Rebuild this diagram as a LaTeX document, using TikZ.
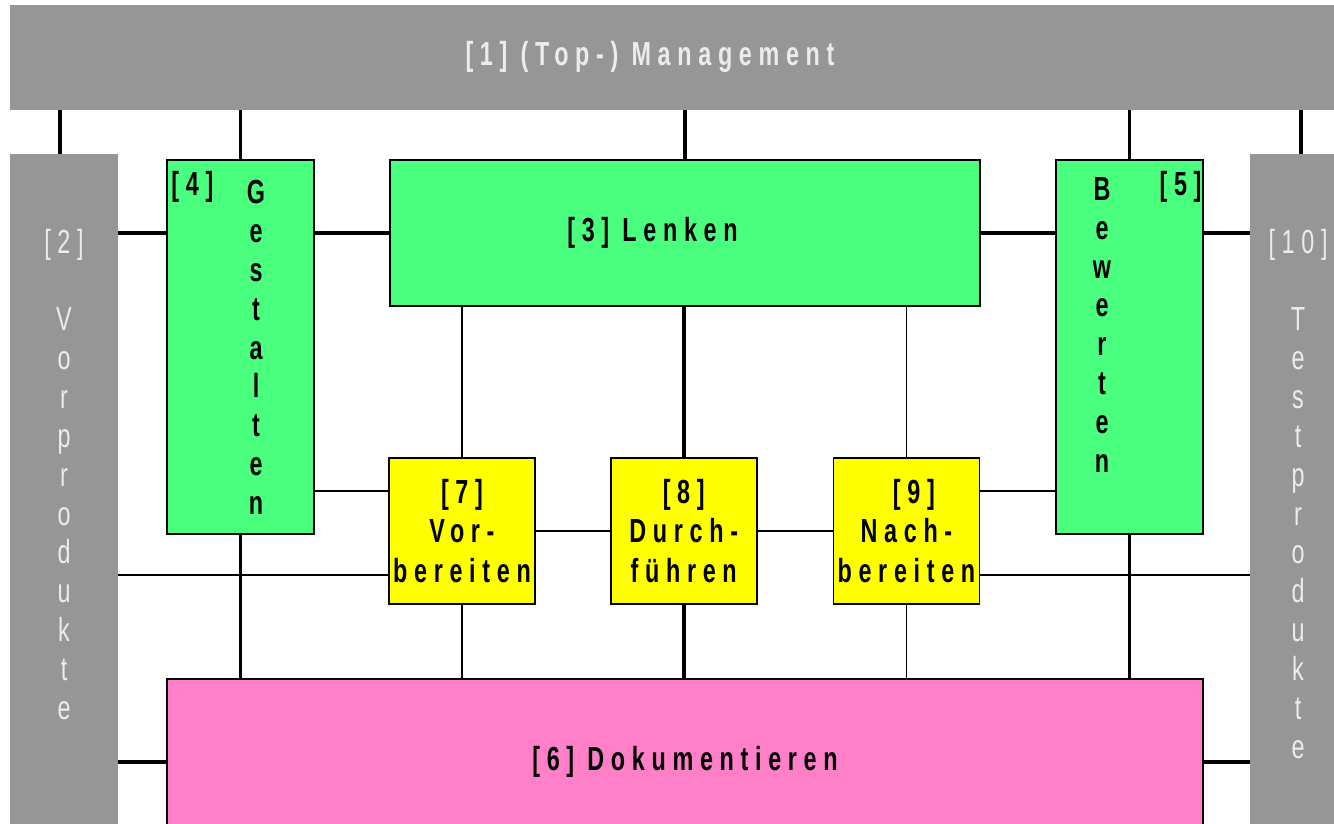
\documentclass[tikz,border=0pt]{standalone}
\usepackage{fontspec}
\newfontfamily\diagfont{Liberation Sans}[FakeStretch=0.7, LetterSpace=20]
\usetikzlibrary{positioning}
\definecolor{bargray}{RGB}{150,150,150}
\definecolor{bartext}{RGB}{236,236,236}
\definecolor{lenkgreen}{RGB}{74,255,126}
\definecolor{phaseyellow}{RGB}{255,255,0}
\definecolor{dokupink}{RGB}{255,128,200}
\tikzset{%
   bar/.style={fill=bargray, draw=none, inner sep=0pt},
   barlbl/.style={text=bartext, inner sep=0pt, align=center, font=\diagfont\fontsize{19}{22.1}\selectfont},
   lenkbox/.style={fill=lenkgreen, draw=black, line width=1pt, inner sep=0pt},
   phasebox/.style={fill=phaseyellow, draw=black, line width=1pt, inner sep=0pt, align=center,
      minimum width=2.92cm, minimum height=2.92cm, font=\diagfont\bfseries\fontsize{19}{22.7}\selectfont},
   dokubox/.style={fill=dokupink, draw=black, line width=1pt, inner sep=0pt},
   boxlbl/.style={inner sep=0pt, align=center, font=\diagfont\bfseries\fontsize{19}{22.1}\selectfont},
   link/.style={line width=2.2pt},
   sublink/.style={line width=1pt},
}

\begin{document}
\begin{tikzpicture}[x=0.02cm, y=-0.02cm]
   \useasboundingbox (0,0) rectangle (1334,823);
   \clip (0,0) rectangle (1334,823);
   % grey frame
   \node[bar, minimum width=26.6cm, minimum height=2.1cm] (mgmt) at (675,57.5) {};
   \node[barlbl, font=\diagfont\bfseries\fontsize{19}{22.1}\selectfont] (mgmtlbl) at (650,57) {[1] (Top-) Management};
   \node[bar, minimum width=2.16cm, minimum height=13.6cm] (vor) at (64,494) {};
   \node[bar, minimum width=1.92cm, minimum height=13.6cm] (test) at (1298,494) {};
   \node[barlbl, below=1.5cm of vor.north] (vorlbl) {[2]\\ \\V\\o\\r\\p\\r\\o\\d\\u\\k\\t\\e};
   \node[barlbl, below=1.5cm of test.north] (testlbl) {[10]\\ \\T\\e\\s\\t\\p\\r\\o\\d\\u\\k\\t\\e};
   % green boxes
   \node[lenkbox, minimum width=2.94cm, minimum height=7.48cm] (gest) at (240.5,347) {};
   \node[lenkbox, minimum width=11.8cm, minimum height=2.92cm, boxlbl] (lenk) at (685,233) {[3] Lenken\hspace{1.3cm}};
   \node[lenkbox, minimum width=2.94cm, minimum height=7.48cm] (bew) at (1129.5,347) {};
   \node[boxlbl, below=0.42cm of gest.north, xshift=0.31cm] (gestlbl) {G\\e\\s\\t\\a\\l\\t\\e\\n};
   \node[boxlbl, anchor=north west] (gestnum) at ([xshift=0.1cm, yshift=-0.24cm]gest.north west) {[4]};
   \node[boxlbl, below=0.36cm of bew.north, xshift=-0.55cm] (bewlbl) {B\\e\\w\\e\\r\\t\\e\\n};
   \node[boxlbl, anchor=north east] (bewnum) at ([xshift=-0.04cm, yshift=-0.24cm]bew.north east) {[5]};
   % phases
   \node[phasebox] (vorb) at (462,531) {[7]\\Vor-\\bereiten};
   \node[phasebox, right=1.48cm of vorb] (durch) {[8]\\Durch-\\führen};
   \node[phasebox, right=1.5cm of durch] (nach) {\hspace{0.3cm}[9]\\Nach-\\bereiten};
   % documentation
   \node[dokubox, minimum width=20.72cm, minimum height=3.32cm, boxlbl] (doku) at (685,762) {[6] Dokumentieren};
   % thick links
   \draw[link] ([xshift=-0.08cm]vor.north) -- ([xshift=-0.08cm]vor.north |- mgmt.south);
   \draw[link] (gest.north) -- (gest.north |- mgmt.south);
   \draw[link] (lenk.north) -- (lenk.north |- mgmt.south);
   \draw[link] (bew.north) -- (bew.north |- mgmt.south);
   \draw[link] ([xshift=0.06cm]test.north) -- ([xshift=0.06cm]test.north |- mgmt.south);
   \draw[link] (vor.east |- lenk) -- (gest.west |- lenk);
   \draw[link] (gest.east |- lenk) -- (lenk.west);
   \draw[link] (lenk.east) -- (bew.west |- lenk);
   \draw[link] (bew.east |- lenk) -- (test.west |- lenk);
   \draw[link] (gest.south) -- (gest.south |- doku.north);
   \draw[link] (bew.south) -- (bew.south |- doku.north);
   \draw[link] (lenk.south -| durch) -- (durch.north);
   \draw[link] (durch.south) -- (durch.south |- doku.north);
   \draw[link] (vor.east |- doku) -- (doku.west);
   \draw[link] (doku.east) -- (test.west |- doku);
   % thin links
   \draw[sublink] (lenk.south -| vorb) -- (vorb.north);
   \draw[sublink] (lenk.south -| nach) -- (nach.north);
   \draw[sublink] (vorb.south) -- (vorb.south |- doku.north);
   \draw[sublink] (nach.south) -- (nach.south |- doku.north);
   \draw[sublink] (vorb.east) -- (durch.west);
   \draw[sublink] (durch.east) -- (nach.west);
   \draw[sublink] ([yshift=0.8cm]vorb.west) -- ([yshift=0.8cm]vorb.west -| gest.east);
   \draw[sublink] ([yshift=0.8cm]nach.east) -- ([yshift=0.8cm]nach.east -| bew.west);
   \draw[sublink] ([yshift=-0.88cm]vorb.west) -- ([yshift=-0.88cm]vorb.west -| vor.east);
   \draw[sublink] ([yshift=-0.88cm]nach.east) -- ([yshift=-0.88cm]nach.east -| test.west);
\end{tikzpicture}
\end{document}
